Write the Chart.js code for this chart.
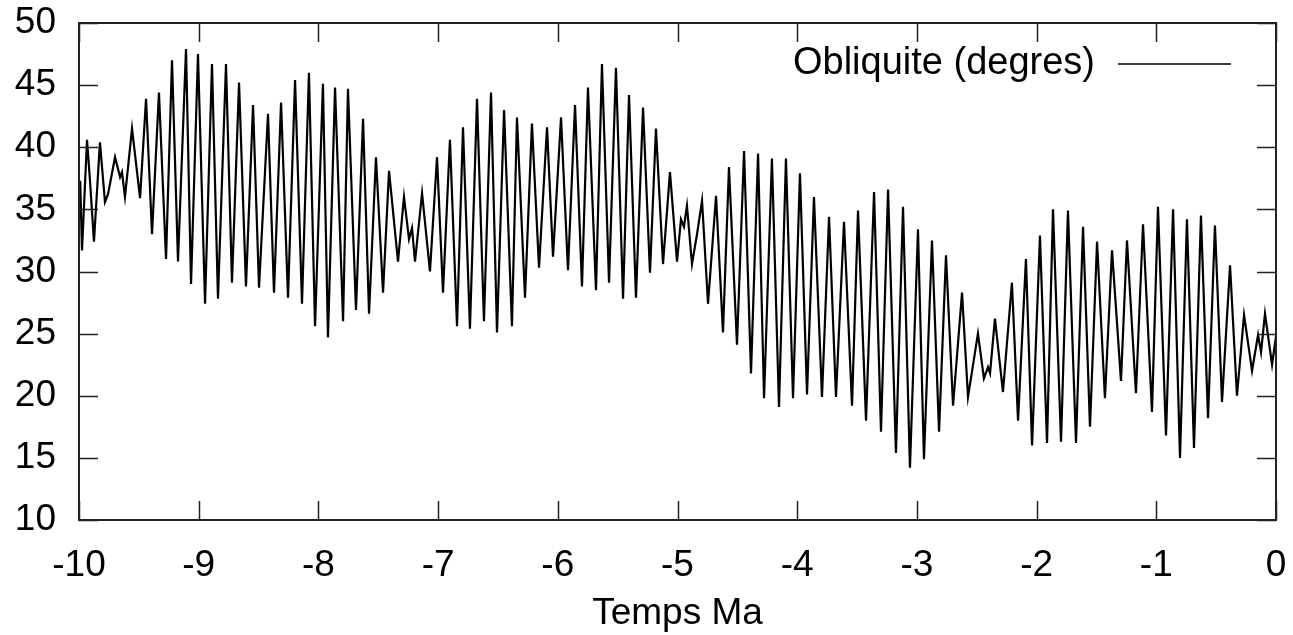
<!DOCTYPE html>
<html><head><meta charset="utf-8">
<script src="https://cdn.jsdelivr.net/npm/chart.js@4/dist/chart.umd.min.js"></script>
<style>html,body{margin:0;padding:0;background:#fff;}#wrap{width:1293px;height:635px;}</style>
</head><body><div id="wrap"><canvas id="c" width="1293" height="635"></canvas></div>
<script>
const seriesLabel = 'Obliquite (degres)';
const xTitle = 'Temps Ma';
const xTicks = [-10, -9, -8, -7, -6, -5, -4, -3, -2, -1, 0];
const yTicks = [10, 15, 20, 25, 30, 35, 40, 45, 50];

const timeMa = [
-9.99, -9.975, -9.933, -9.908, -9.875, -9.825, -9.783, -9.758, -9.699, -9.657, -9.641, -9.616, -9.557, -9.49, -9.44, -9.39, -9.332, -9.273, -9.223, -9.173, -9.106, -9.064, -9.006,
-8.947, -8.889, -8.839, -8.772, -8.722, -8.663, -8.605, -8.546, -8.496, -8.421, -8.371, -8.312, -8.254, -8.195, -8.137, -8.079, -8.028, -7.962, -7.92,
-7.861, -7.794, -7.753, -7.686, -7.627, -7.577, -7.519, -7.46, -7.41, -7.335, -7.285, -7.243, -7.218, -7.193, -7.134, -7.068, -7.009, -6.959, -6.901,
-6.842, -6.792, -6.734, -6.675, -6.617, -6.558, -6.508, -6.449, -6.383, -6.341, -6.274, -6.216, -6.157, -6.09, -6.04, -5.973, -5.915,
-5.856, -5.798, -5.748, -5.681, -5.631, -5.572, -5.514, -5.455, -5.405, -5.347, -5.288, -5.23, -5.18, -5.121, -5.063, -5.004, -4.971, -4.946, -4.921,
-4.879, -4.837, -4.795, -4.745, -4.678, -4.62, -4.57, -4.503, -4.444, -4.386, -4.327, -4.277, -4.211, -4.152, -4.094, -4.035, -3.977, -3.918,
-3.86, -3.793, -3.734, -3.676, -3.609, -3.542, -3.492, -3.425, -3.358, -3.3, -3.241, -3.175, -3.116, -3.058, -2.991, -2.941,
-2.874, -2.815, -2.757, -2.698, -2.623, -2.573, -2.49, -2.44, -2.406, -2.389, -2.348, -2.281, -2.206, -2.155, -2.089, -2.038, -1.972, -1.913,
-1.863, -1.796, -1.738, -1.671, -1.612, -1.554, -1.495, -1.429, -1.37, -1.295, -1.245, -1.17, -1.111, -1.036, -0.986, -0.919,
-0.86, -0.802, -0.744, -0.685, -0.627, -0.568, -0.51, -0.451, -0.384, -0.326, -0.267, -0.2, -0.15, -0.125, -0.092, -0.033, 0
];

const obliquity = [
37.3, 31.7, 40.6, 37.3, 32.4, 40.4, 35.6, 36.2, 39.2, 37.6, 38.0, 36.0, 41.5, 35.9, 43.9, 33.0, 44.4, 31.0, 47.0, 30.8, 47.9, 29.0, 47.5,
27.4, 46.7, 27.8, 46.7, 29.1, 45.2, 28.8, 43.4, 28.7, 42.7, 28.3, 43.6, 27.9, 45.4, 27.4, 46.0, 25.6, 45.1, 24.7,
44.8, 26.0, 44.7, 26.9, 42.3, 26.6, 39.2, 28.3, 38.1, 30.8, 36.0, 32.6, 33.5, 30.8, 36.3, 30.0, 39.2, 28.3, 40.6,
25.6, 41.6, 25.4, 43.9, 26.0, 44.4, 25.1, 43.0, 25.6, 42.4, 27.9, 41.9, 30.3, 41.6, 31.2, 42.4, 30.1,
43.4, 28.8, 44.8, 28.5, 46.7, 29.1, 46.4, 27.8, 44.2, 27.9, 43.2, 29.9, 41.5, 30.6, 38.0, 30.8, 34.2, 33.6, 35.3,
30.6, 33.0, 35.7, 27.4, 36.1, 25.1, 38.4, 24.1, 39.7, 21.8, 39.5, 19.8, 39.1, 19.1, 39.1, 19.8, 37.9, 20.1,
36.0, 19.9, 34.4, 19.9, 34.0, 19.2, 34.9, 18.0, 36.4, 17.1, 36.6, 15.4, 35.2, 14.2, 33.4, 14.9,
32.5, 17.1, 31.3, 19.2, 28.3, 19.9, 25.0, 21.4, 22.3, 21.8, 26.2, 20.3, 29.1, 18.0, 31.0, 16.0, 32.9, 16.2,
35.0, 16.3, 34.9, 16.2, 33.6, 17.5, 32.4, 19.8, 31.7, 21.2, 32.5, 20.2, 33.8, 18.7, 35.2, 16.8,
35.0, 15.0, 34.2, 15.8, 34.5, 18.2, 33.7, 19.5, 30.5, 20.0, 26.5, 22.0, 24.9, 23.5, 26.6, 22.5, 24.8
];

const FONT = '"Liberation Sans", Arial, sans-serif';
const TICK_LEN = 19;

const framePlugin = {
  id: 'gnuplotFrame',
  afterDatasetsDraw(chart) {
    const {ctx, chartArea: a, scales: {x, y}} = chart;
    ctx.save();
    ctx.strokeStyle = '#222';
    ctx.lineWidth = 1.5;
    ctx.beginPath();
    x.ticks.forEach(t => {
      const px = Math.round(x.getPixelForValue(t.value)) + 0.5;
      ctx.moveTo(px, a.bottom); ctx.lineTo(px, a.bottom - TICK_LEN);
      ctx.moveTo(px, a.top); ctx.lineTo(px, a.top + TICK_LEN);
    });
    y.ticks.forEach(t => {
      const py = Math.round(y.getPixelForValue(t.value)) + 0.5;
      ctx.moveTo(a.left, py); ctx.lineTo(a.left + TICK_LEN, py);
      ctx.moveTo(a.right, py); ctx.lineTo(a.right - TICK_LEN, py);
    });
    ctx.stroke();
    ctx.lineWidth = 2;
    ctx.strokeRect(a.left, a.top, a.right - a.left, a.bottom - a.top);
    // key (gnuplot style: text then line sample)
    const ds = chart.data.datasets[0];
    const ky = a.top + 41;
    ctx.fillStyle = '#000';
    ctx.font = '38px ' + FONT;
    ctx.textAlign = 'right';
    ctx.textBaseline = 'middle';
    ctx.fillText(ds.label, a.right - 181, ky);
    ctx.strokeStyle = ds.borderColor;
    ctx.lineWidth = 1.5;
    ctx.beginPath();
    ctx.moveTo(a.right - 158, ky); ctx.lineTo(a.right - 45, ky);
    ctx.stroke();
    ctx.restore();
  }
};

new Chart(document.getElementById('c'), {
  type: 'line',
  data: {
    datasets: [{
      label: seriesLabel,
      data: timeMa.map((t, i) => ({x: t, y: obliquity[i]})),
      borderColor: '#000',
      borderWidth: 2.2,
      pointRadius: 0,
      tension: 0,
      fill: false
    }]
  },
  options: {
    responsive: false,
    animation: false,
    devicePixelRatio: 1,
    layout: {padding: {left: 0, right: 17, top: 23, bottom: 0}},
    plugins: {legend: {display: false}, tooltip: {enabled: false}},
    scales: {
      x: {
        type: 'linear', min: -10, max: 0,
        grid: {display: false}, border: {display: false},
        afterBuildTicks(s) { s.ticks = xTicks.map(v => ({value: v})); },
        ticks: {color: '#000', padding: 16, maxRotation: 0, autoSkip: false,
                font: {family: FONT, size: 37}},
        title: {display: true, text: xTitle, color: '#000',
                font: {family: FONT, size: 37}, padding: {top: 0, bottom: -1}},
        afterFit(s) { s.height = 115; s.paddingLeft = 0; s.paddingRight = 0; }
      },
      y: {
        type: 'linear', min: 10, max: 50,
        grid: {display: false}, border: {display: false},
        afterBuildTicks(s) { s.ticks = yTicks.map(v => ({value: v})); },
        ticks: {color: '#000', padding: 15, font: {family: FONT, size: 37}},
        afterFit(s) { s.width = 79; s.paddingTop = 0; s.paddingBottom = 0; }
      }
    }
  },
  plugins: [framePlugin]
});
</script>
</body></html>
